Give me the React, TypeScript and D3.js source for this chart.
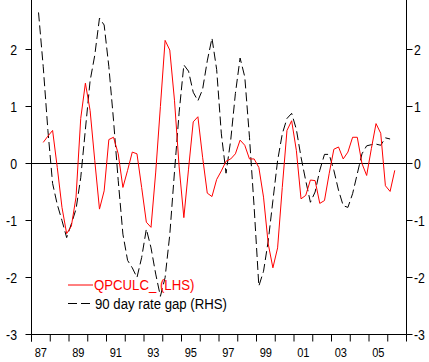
import React from 'react';
import * as d3 from 'd3';

// quarterly series, QPCULC starts 1987Q3, rate gap starts 1987Q2
const qpculcStart = 2;
const qpculc: number[] = [
  0.37, 0.48, 0.58, -0.07, -0.77, -1.23, -1.10, -0.59, 0.79, 1.41,
  0.93, 0.05, -0.80, -0.48, 0.42, 0.46, 0.17, -0.42, -0.12, 0.20,
  0.17, -0.42, -1.03, -1.12, -0.15, 1.00, 2.16, 1.99, 1.11, -0.06,
  -0.95, -0.10, 0.73, 0.82, 0.11, -0.52, -0.58, -0.28, -0.13, 0.04,
  0.08, 0.17, 0.41, 0.32, 0.08, 0.08, -0.07, -0.59, -1.41, -1.83,
  -1.48, -0.42, 0.58, 0.75, 0.23, -0.62, -0.56, -0.29, -0.30, -0.70,
  -0.65, -0.18, 0.25, 0.29, 0.08, 0.20, 0.46, 0.46, 0.00, -0.21,
  0.26, 0.70, 0.53, -0.39, -0.49, -0.12,
];

const rateGapStart = 1;
const rateGap: number[] = [
  2.65, 1.70, 0.58, -0.35, -0.72, -1.00, -1.30, -1.06, -0.80, -0.25,
  0.60, 1.45, 1.90, 2.55, 2.43, 1.70, 0.76, -0.30, -1.24, -1.70,
  -1.83, -2.00, -1.65, -1.15, -1.48, -1.94, -2.33, -2.00, -1.25, -0.15,
  0.90, 1.73, 1.62, 1.25, 1.10, 1.30, 1.80, 2.20, 1.65, 0.52,
  -0.17, 0.41, 1.23, 1.85, 1.52, 0.46, -0.77, -2.15, -1.89, -1.36,
  -0.65, 0.05, 0.52, 0.79, 0.88, 0.60, 0.11, -0.30, -0.68, -0.50,
  -0.12, 0.16, 0.16, -0.12, -0.47, -0.74, -0.77, -0.53, -0.18, 0.17,
  0.31, 0.33, 0.34, 0.32, 0.45, 0.43,
];

const yTicks = [-3, -2, -1, 0, 1, 2, 3];
const yearLabels = ['87', '89', '91', '93', '95', '97', '99', '01', '03', '05'];
const labelYears = [1987, 1989, 1991, 1993, 1995, 1997, 1999, 2001, 2003, 2005];

const font = '"Liberation Sans", Arial, sans-serif';

const App: React.FC = () => {
  const x = d3.scaleLinear().domain([1987, 2007]).range([31.5, 406.5]);
  const yL = d3.scaleLinear().domain([-3, 3]).range([334.5, -7.5]);
  const yR = d3.scaleLinear().domain([-3, 3]).range([334.5, -7.5]);

  const qx = (i: number) => x(1987 + (i + 0.5) / 4);

  const line = d3.line<[number, number]>().x(d => d[0]).y(d => d[1]);
  const redPath = line(qpculc.map((v, i) => [qx(i + qpculcStart), yL(v)]));
  const gapPath = line(rateGap.map((v, i) => [qx(i + rateGapStart), yR(v)]));

  const years = d3.range(1987, 2008);
  const [x0, x1] = x.range();

  return (
    <svg width={429} height={362} style={{ position: 'absolute', left: 0, top: 0, background: '#fff' }}>
      {/* zero line */}
      <line x1={x0} x2={x1} y1={yL(0)} y2={yL(0)} stroke="#000" strokeWidth={1} />

      <path d={gapPath ?? ''} fill="none" stroke="#000" strokeWidth={1} strokeDasharray="9,4" />
      <path d={redPath ?? ''} fill="none" stroke="#ff0000" strokeWidth={1} />

      {/* left axis */}
      <line x1={x0} x2={x0} y1={-10} y2={yL(-3) + 7} stroke="#000" />
      {yTicks.map(t => (
        <g key={'l' + t}>
          <line x1={x0 - 6} x2={x0} y1={yL(t)} y2={yL(t)} stroke="#000" />
          <text transform={`translate(17,${yL(t) + 1.5}) scale(0.88,1)`} textAnchor="end"
            dominantBaseline="middle" fontFamily={font} fontSize={14} fill="#000">{t}</text>
        </g>
      ))}

      {/* right axis */}
      <line x1={x1} x2={x1} y1={-10} y2={yR(-3)} stroke="#000" />
      {yTicks.map(t => (
        <g key={'r' + t}>
          <line x1={x1} x2={x1 + 6} y1={yR(t)} y2={yR(t)} stroke="#000" />
          <text transform={`translate(414,${yR(t) + 1.5}) scale(0.88,1)`} textAnchor="start"
            dominantBaseline="middle" fontFamily={font} fontSize={14} fill="#000">{t}</text>
        </g>
      ))}

      {/* bottom axis */}
      <line x1={x0} x2={x1} y1={yL(-3)} y2={yL(-3)} stroke="#000" />
      {years.map(yr => (
        <line key={yr} x1={x(yr)} x2={x(yr)} y1={yL(-3)} y2={yL(-3) + 7} stroke="#000" />
      ))}
      {labelYears.map((yr, i) => (
        <text key={yr} transform={`translate(${x(yr + 0.5)},357) scale(0.82,1)`} textAnchor="middle"
          fontFamily={font} fontSize={13.5} fill="#000">{yearLabels[i]}</text>
      ))}

      {/* legend */}
      <line x1={68} x2={93} y1={285} y2={285} stroke="#ff0000" />
      <text transform="translate(94,290) scale(0.91,1)" fontFamily={font} fontSize={14.5} fill="#ff0000">QPCULC_ (LHS)</text>
      <line x1={68} x2={93} y1={303.5} y2={303.5} stroke="#000" strokeDasharray="9,4" />
      <text transform="translate(95,309) scale(0.91,1)" fontFamily={font} fontSize={14.5} fill="#000">90 day rate gap (RHS)</text>
    </svg>
  );
};

export default App;
